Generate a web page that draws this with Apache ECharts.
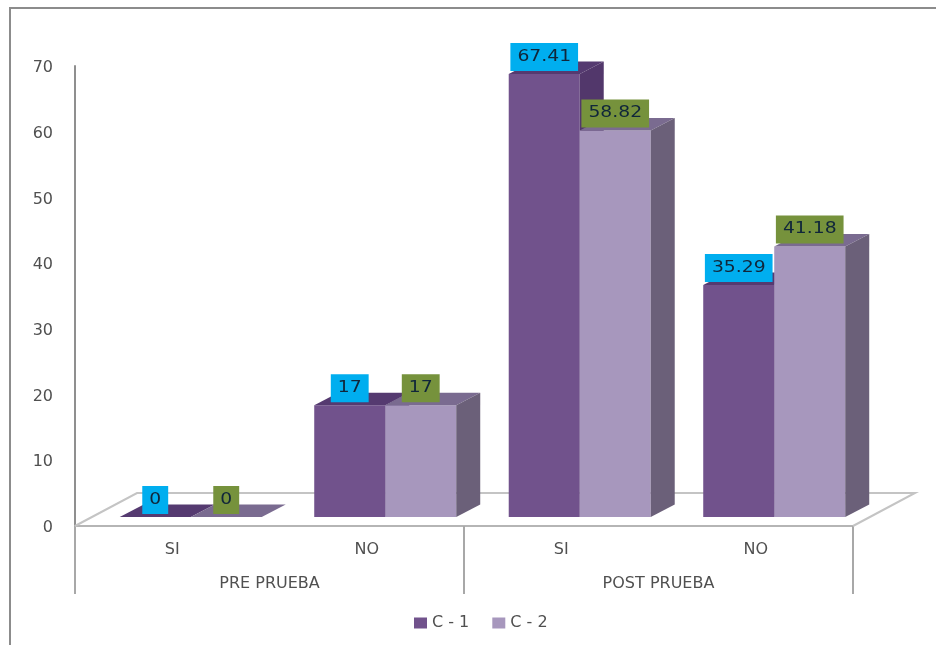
<!DOCTYPE html>
<html><head><meta charset="utf-8">
<style>html,body{margin:0;padding:0;background:#fff}#c{width:936px;height:645px}</style>
<script src="https://cdn.jsdelivr.net/npm/echarts@6/dist/echarts.min.js"></script>
</head><body><div id="c"></div>
<script>
const categories = ['SI','NO','SI','NO'];
const phases = ['PRE PRUEBA','POST PRUEBA'];
const seriesNames = ['C - 1','C - 2'];
const c1Values = [0,17,67.41,35.29];
const c2Values = [0,17,58.82,41.18];
const c1Labels = ['0','17','67.41','35.29'];
const c2Labels = ['0','17','58.82','41.18'];

const FONT = '"DejaVu Sans", sans-serif';
const TXT = '#505050';
const BAR_W = 71, DX = 24, DY = 12.5, LIFT = 9;

function bar3d(pal, labels, side){
  return function(params, api){
    const i = api.value(0), v = api.value(1);
    const p = api.coord([i, v]), b = api.coord([i, 0]);
    const band = api.size([1,0])[0];
    const split = p[0] + band * 0.095;
    const x0 = side === 0 ? split - BAR_W : split;
    const x1 = x0 + BAR_W;
    const yb = b[1] - LIFT, yt = p[1] - LIFT;
    const kids = [];
    if (v > 0) kids.push({type:'rect', shape:{x:x0,y:yt,width:BAR_W,height:yb-yt}, style:{fill:pal.front}});
    kids.push({type:'polygon', shape:{points:[[x0,yt],[x1,yt],[x1+DX,yt-DY],[x0+DX,yt-DY]]}, style:{fill:pal.top}});
    if (v > 0) kids.push({type:'polygon', shape:{points:[[x1,yt],[x1+DX,yt-DY],[x1+DX,yb-DY],[x1,yb]]}, style:{fill:pal.side}});
    kids.push({type:'text', x:(x0+x1)/2, y:yt-17, scaleX:1.25, z2:10,
      style:{text:labels[params.dataIndex], fill:'#10263a', font:'15px '+FONT, align:'center', verticalAlign:'middle',
             backgroundColor:pal.label, padding:[7,5.6,6,5.6]}});
    return {type:'group', children:kids};
  };
}
function toData(vals){ return vals.map((v,i)=>[i,v]); }

const chart = echarts.init(document.getElementById('c'), null, {renderer:'canvas'});
chart.setOption({
  animation:false,
  backgroundColor:'#fff',
  textStyle:{fontFamily:FONT},
  grid:{left:75, right:83, top:66, bottom:119, containLabel:false},
  legend:{left:414, top:615, icon:'rect', itemWidth:13, itemHeight:11, itemGap:23, data:seriesNames,
    textStyle:{color:TXT, fontSize:16, fontFamily:FONT}, padding:0},
  xAxis:[
    {type:'category', data:categories, position:'bottom',
     axisLine:{show:true, lineStyle:{color:'#b5b5b5', width:2}},
     axisTick:{show:false},
     axisLabel:{color:TXT, fontSize:16, fontFamily:FONT, margin:16, interval:0}},
    {type:'category', data:phases, position:'bottom',
     axisLine:{show:false},
     axisTick:{show:true, length:68, lineStyle:{color:'#a8a8a8', width:2}},
     axisLabel:{color:TXT, fontSize:16, fontFamily:FONT, margin:50, interval:0}}
  ],
  yAxis:{type:'value', min:0, max:70, interval:10,
     axisLine:{show:true, lineStyle:{color:'#8f8f8f', width:2}},
     axisTick:{show:false}, splitLine:{show:false},
     axisLabel:{color:TXT, fontSize:16, fontFamily:FONT, margin:22, verticalAlign:'top', lineHeight:4}},
  graphic:[
    {type:'polyline', silent:true, z:-1, shape:{points:[[10,645],[10,8],[936,8]]},
     style:{stroke:'#8c8c8c', lineWidth:2, fill:null}}
  ],
  series:[
    {type:'custom', name:'floor', silent:true, z:1, data:[[0,0]], encode:{x:0,y:1},
     renderItem:function(params, api){
       const cs = params.coordSys, yb = cs.y + cs.height, x0 = cs.x, x1 = cs.x + cs.width;
       return {type:'polyline', shape:{points:[[x0,yb],[x0+62,yb-33],[x1+62,yb-33],[x1,yb]]},
               style:{stroke:'#c4c4c4', lineWidth:2, fill:null}};
     }},
    {type:'custom', name:seriesNames[0], z:2, data:toData(c1Values), encode:{x:0,y:1},
     itemStyle:{color:'#71528c'},
     renderItem:bar3d({front:'#71528c',top:'#553a70',side:'#52376b',label:'#00aeef'}, c1Labels, 0)},
    {type:'custom', name:seriesNames[1], z:3, data:toData(c2Values), encode:{x:0,y:1},
     itemStyle:{color:'#a797bd'},
     renderItem:bar3d({front:'#a797bd',top:'#7a6b90',side:'#6b6079',label:'#76923c'}, c2Labels, 1)}
  ]
});
</script></body></html>
